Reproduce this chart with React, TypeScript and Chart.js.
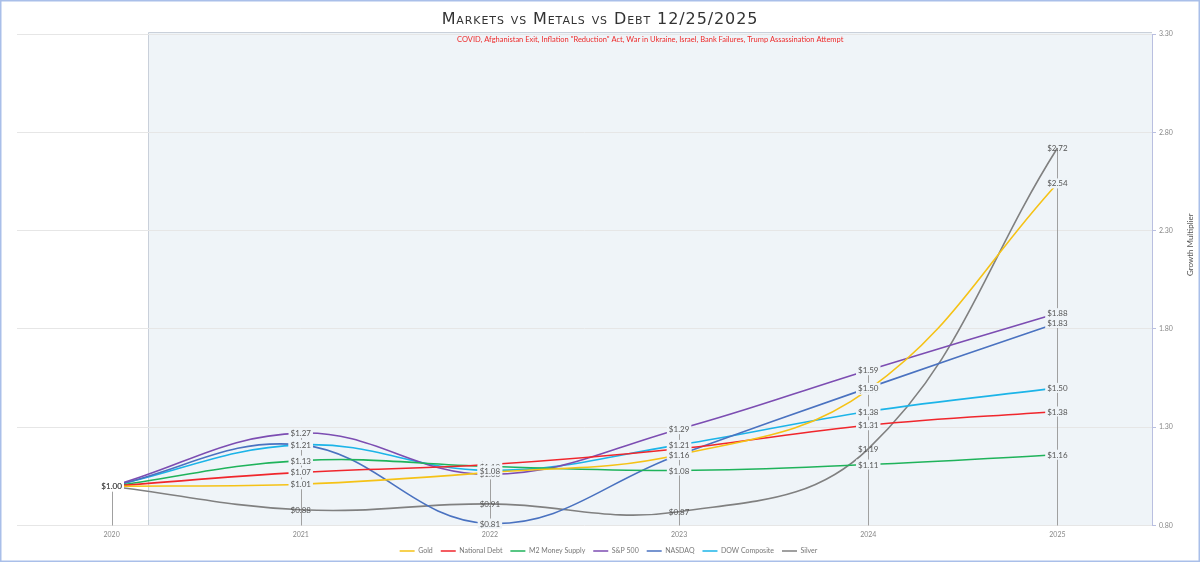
import React, { useEffect, useRef } from "react";
import { Chart, registerables } from "chart.js";

Chart.register(...registerables);

// Growth multipliers relative to 2020
const years = ["2020", "2021", "2022", "2023", "2024", "2025"];
const gold = [1.0, 1.01, 1.07, 1.16, 1.49, 2.54];
const nationalDebt = [1.0, 1.07, 1.11, 1.19, 1.31, 1.38];
const m2MoneySupply = [1.0, 1.13, 1.1, 1.08, 1.11, 1.16];
const sp500 = [1.0, 1.27, 1.06, 1.29, 1.59, 1.88];
const nasdaq = [1.0, 1.21, 0.81, 1.16, 1.5, 1.83];
const dowComposite = [1.0, 1.21, 1.08, 1.21, 1.38, 1.5];
const silver = [1.0, 0.88, 0.91, 0.87, 1.19, 2.72];

const seriesNames = ["Gold", "National Debt", "M2 Money Supply", "S&P 500", "NASDAQ", "DOW Composite", "Silver"];
const seriesValues = [gold, nationalDebt, m2MoneySupply, sp500, nasdaq, dowComposite, silver];
const seriesColors = ["#f5c216", "#f0262c", "#1fb35b", "#7c4db2", "#4a72c0", "#1cb4e8", "#808080"];

const yMin = 0.8;
const yMax = 3.3;
const yStep = 0.5;
const yTitle = "Growth Multiplier";

// Shaded event period, as a position on the year axis (early 2020 onward)
const eventsStart = 0.195;
const eventsText =
  'COVID, Afghanistan Exit, Inflation "Reduction" Act, War in Ukraine, Israel, Bank Failures, Trump Assassination Attempt';

const titleText = "Markets vs Metals vs Debt 12/25/2025";

const FONT = "Lato, 'Open Sans', sans-serif";
const PERIOD_FILL = "#eff4f8";

const periodPlugin = {
  id: "periodBox",
  beforeDraw(chart: any) {
    const { ctx, chartArea, scales } = chart;
    const x0 = scales.x.getPixelForValue(eventsStart);
    const x1 = chartArea.right;
    const top = chartArea.top - 2;
    const bottom = chartArea.bottom;
    ctx.save();
    ctx.fillStyle = PERIOD_FILL;
    ctx.fillRect(x0, top, x1 - x0, bottom - top);
    ctx.strokeStyle = "#c9d0da";
    ctx.lineWidth = 1;
    ctx.beginPath();
    ctx.moveTo(Math.round(x0) + 0.5, bottom);
    ctx.lineTo(Math.round(x0) + 0.5, top + 0.5);
    ctx.lineTo(x1, top + 0.5);
    ctx.stroke();
    ctx.restore();
  },
  beforeDatasetsDraw(chart: any) {
    const { ctx, chartArea, scales } = chart;
    const x0 = scales.x.getPixelForValue(eventsStart);
    ctx.save();
    // event caption
    ctx.fillStyle = "#ee2a2a";
    ctx.font = `7.5px ${FONT}`;
    ctx.textAlign = "center";
    ctx.textBaseline = "middle";
    ctx.fillText(eventsText, (x0 + chartArea.right) / 2, chartArea.top + 6);
    // drop lines from the highest value of each year to the axis
    ctx.strokeStyle = "#a0a0a0";
    ctx.lineWidth = 1;
    years.forEach((_, i) => {
      const top = Math.max(...seriesValues.map((s) => s[i]));
      const x = Math.round(scales.x.getPixelForValue(i)) + 0.5;
      ctx.beginPath();
      ctx.moveTo(x, scales.y.getPixelForValue(top));
      ctx.lineTo(x, chartArea.bottom);
      ctx.stroke();
    });
    ctx.restore();
  },
  afterDatasetsDraw(chart: any) {
    const { ctx, scales } = chart;
    const x0 = scales.x.getPixelForValue(eventsStart);
    ctx.save();
    ctx.font = `8px ${FONT}`;
    ctx.textAlign = "center";
    ctx.textBaseline = "middle";
    seriesValues.forEach((values, d) => {
      values.forEach((v, i) => {
        const x = scales.x.getPixelForValue(i);
        const y = scales.y.getPixelForValue(v);
        const text = `$${v.toFixed(2)}`;
        const w = ctx.measureText(text).width + 4;
        const h = 10;
        if (d !== seriesValues.length - 1) {
          ctx.fillStyle = x < x0 ? "#ffffff" : PERIOD_FILL;
          ctx.fillRect(x - w / 2, y - h / 2, w, h);
        }
        ctx.fillStyle = "#555555";
        ctx.fillText(text, x, y + 0.5);
      });
    });
    ctx.restore();
  },
  afterDraw(chart: any) {
    const { ctx, width, height, chartArea } = chart;
    ctx.save();
    // rotated value-axis caption, sitting a little above the axis middle
    ctx.translate(width - 10, (chartArea.top + chartArea.bottom) / 2 - 35);
    ctx.rotate(-Math.PI / 2);
    ctx.fillStyle = "#555555";
    ctx.font = `8px ${FONT}`;
    ctx.textAlign = "center";
    ctx.textBaseline = "middle";
    ctx.fillText(yTitle, 0, 0);
    ctx.restore();
    ctx.save();
    ctx.strokeStyle = "#a9bfe9";
    ctx.lineWidth = 1.5;
    ctx.strokeRect(0.75, 0.75, width - 1.5, height - 1.5);
    ctx.restore();
  },
};

export default function App() {
  const canvasRef = useRef<HTMLCanvasElement | null>(null);

  useEffect(() => {
    document.body.style.margin = "0";
    const canvas = canvasRef.current;
    if (!canvas) return;
    const chart = new Chart(canvas, {
      type: "line",
      data: {
        labels: years,
        datasets: seriesNames.map((name, i) => ({
          label: name,
          data: seriesValues[i],
          borderColor: seriesColors[i],
          backgroundColor: seriesColors[i],
          borderWidth: 1.6,
          pointRadius: 0,
          pointHoverRadius: 0,
          tension: 0.4,
          fill: false,
          pointStyle: "line",
        })),
      },
      options: {
        animation: false,
        responsive: false,
        maintainAspectRatio: false,
        layout: { padding: { left: 17, top: 34, right: 0, bottom: -2.5 } },
        plugins: {
          title: { display: false },
          tooltip: { enabled: false },
          legend: {
            position: "bottom",
            labels: {
              usePointStyle: true,
              pointStyle: "line",
              pointStyleWidth: 15,
              boxHeight: 7,
              padding: 8,
              color: "#777777",
              font: { family: FONT, size: 7 },
            },
          },
        },
        scales: {
          x: {
            offset: true,
            grid: { display: false, drawTicks: false },
            border: { display: false },
            ticks: { color: "#888888", font: { family: FONT, size: 7 }, padding: 5 },
            afterFit(scale: any) {
              scale.height = 14;
            },
          },
          y: {
            position: "right",
            min: yMin,
            max: yMax,
            grid: { color: "#e6e6e6", tickColor: "#b9bfe0", tickLength: 4 },
            border: { color: "#b9bfe0" },
            ticks: {
              stepSize: yStep,
              color: "#888888",
              font: { family: FONT, size: 7 },
              padding: 3,
              callback: (v: any) => Number(v).toFixed(2),
            },
            title: { display: false },
            afterFit(scale: any) {
              scale.width = 48;
            },
          },
        },
      },
      plugins: [periodPlugin],
    });
    return () => chart.destroy();
  }, []);

  return (
    <div style={{ position: "relative", width: 1200, height: 562, background: "#ffffff" }}>
      <canvas ref={canvasRef} width={1200} height={562} style={{ display: "block" }} />
      <div
        style={{
          position: "absolute",
          top: 8,
          left: 0,
          width: 1200,
          textAlign: "center",
          fontFamily: "'DejaVu Sans', sans-serif",
          fontVariant: "small-caps",
          fontSize: 16,
          letterSpacing: 0.9,
          color: "#333333",
          lineHeight: "22px",
        }}
      >
        {titleText}
      </div>
    </div>
  );
}
